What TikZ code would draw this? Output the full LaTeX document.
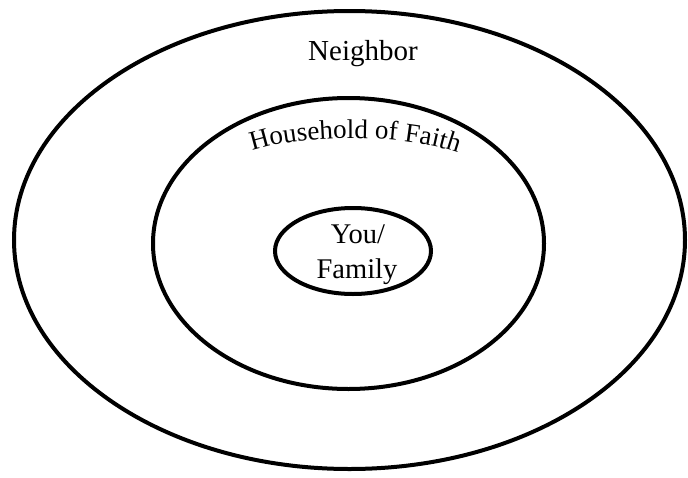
\documentclass[tikz,border=0pt]{standalone}
\usepackage{fontspec}
\setmainfont{Liberation Serif}
\usetikzlibrary{shapes.geometric,decorations.text}
\tikzset{
  ring/.style={draw, line width=4pt, ellipse, inner sep=0pt, outer sep=0pt},
  lbl/.style={inner sep=0pt, anchor=base},
}
\newcommand{\hfsize}{\fontsize{27}{27}\selectfont}
\begin{document}
\begin{tikzpicture}[x=1pt,y=-1pt]
\useasboundingbox[fill=white] (0,0) rectangle (688,477);
\node[ring, minimum width=671pt, minimum height=458pt] (outer) at (349.5,240) {};
\node[ring, minimum width=391pt, minimum height=291pt] (middle) at (348.5,243.5) {};
\node[ring, minimum width=156pt, minimum height=86pt] (inner) at (353,251) {};
\node[lbl, font=\fontsize{29}{29}\selectfont] (neighbor) at (363,60) {Neighbor};
\node[lbl, font=\fontsize{28.5}{28.5}\selectfont] (you) at (358,243) {You/};
\node[lbl, font=\fontsize{28.5}{28.5}\selectfont] (family) at (357,278) {Family};
\coordinate (hfA) at (247,153);
\coordinate (hfB) at (463,155);
\path[decorate, decoration={text along path, text={|\hfsize|Household of Faith}, text align=center}]
  (hfA) .. controls (300,133) and (410,133) .. (hfB);
\end{tikzpicture}
\end{document}
